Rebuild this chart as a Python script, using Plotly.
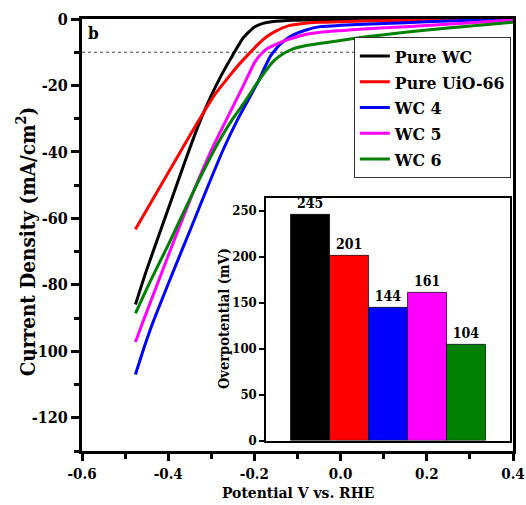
import plotly.graph_objects as go

# ---- LSV polarisation curves (potential in V vs. RHE, current density in mA/cm^2)
series_names = ["Pure WC", "Pure UiO-66", "WC 4", "WC 5", "WC 6"]
series_colors = ["#000000", "#ff0000", "#0000ff", "#ff00ff", "#008000"]

wc_pure_v = [-0.476, -0.45, -0.42, -0.39, -0.36, -0.33, -0.30, -0.275, -0.25, -0.225,
             -0.20, -0.18, -0.16, -0.13, -0.10, 0.0, 0.2, 0.4]
wc_pure_j = [-85.9, -75.5, -64.5, -53.5, -42.5, -32.0, -23.0, -16.5, -10.8, -5.5,
             -2.4, -1.3, -0.8, -0.5, -0.35, -0.2, -0.1, 0.0]

uio_v = [-0.476, -0.44, -0.40, -0.36, -0.32, -0.29, -0.265, -0.24, -0.213, -0.19,
         -0.17, -0.147, -0.12, -0.09, -0.05, 0.0, 0.1, 0.25, 0.4]
uio_j = [-63.3, -55.2, -46.3, -37.3, -28.6, -22.4, -18.3, -14.3, -10.5, -7.4,
         -5.2, -3.4, -2.0, -1.4, -1.0, -0.8, -0.5, -0.3, 0.0]

wc4_v = [-0.476, -0.455, -0.434, -0.39, -0.348, -0.31, -0.273, -0.24, -0.215, -0.19,
         -0.175, -0.163, -0.15, -0.14, -0.125, -0.11, -0.08, -0.047, 0.0, 0.053,
         0.15, 0.25, 0.4]
wc4_j = [-107.0, -98.5, -90.8, -76.5, -63.2, -51.0, -39.5, -30.5, -24.5, -18.5,
         -14.3, -11.2, -9.0, -7.6, -6.0, -4.8, -3.3, -2.3, -1.9, -1.6,
         -1.1, -0.6, 0.0]

wc5_v = [-0.476, -0.457, -0.42, -0.38, -0.34, -0.30, -0.26, -0.225, -0.20, -0.185,
         -0.17, -0.15, -0.124, -0.086, -0.047, 0.0, 0.053, 0.15, 0.285, 0.4]
wc5_j = [-97.2, -90.6, -78.0, -64.5, -51.5, -39.5, -29.0, -19.9, -13.2, -10.6,
         -8.9, -7.6, -6.3, -4.8, -4.0, -3.5, -3.0, -2.3, -1.3, -0.3]

wc6_v = [-0.476, -0.44, -0.40, -0.36, -0.325, -0.283, -0.25, -0.22, -0.20, -0.175,
         -0.155, -0.135, -0.11, -0.08, -0.04, 0.0, 0.05, 0.15, 0.25, 0.4]
wc6_j = [-88.6, -78.5, -68.0, -57.0, -47.5, -37.0, -30.0, -24.5, -20.5, -15.8,
         -12.6, -10.6, -9.0, -8.0, -7.2, -6.5, -5.5, -4.0, -2.7, -1.0]

# reference current density used for the overpotential comparison
j_ref = -10

# ---- overpotential at -10 mA/cm^2 (mV)
overpotential_mv = [245, 201, 144, 161, 104]

# ---- tick labels
x_tickvals = [-0.6, -0.4, -0.2, 0.0, 0.2, 0.4]
x_ticktext = ["-0.6", "-0.4", "-0.2", "0.0", "0.2", "0.4"]
y_tickvals = [0, -20, -40, -60, -80, -100, -120]
y_ticktext = ["0", "-20", "-40", "-60", "-80", "-100", "-120"]
inset_tickvals = [0, 50, 100, 150, 200, 250]
inset_ticktext = ["0", "50", "100", "150", "200", "250"]


def bold(labels):
    return [f"<b>{t}</b>" for t in labels]


FONT = "DejaVu Serif Condensed, DejaVu Serif, serif"

curves = [(wc_pure_v, wc_pure_j), (uio_v, uio_j), (wc4_v, wc4_j),
          (wc5_v, wc5_j), (wc6_v, wc6_j)]

fig = go.Figure()

for name, color, (v, j) in zip(series_names, series_colors, curves):
    fig.add_trace(go.Scatter(
        x=v, y=j, name=name, mode="lines",
        line=dict(color=color, width=3, shape="spline", smoothing=0.5),
        xaxis="x", yaxis="y",
    ))

fig.add_trace(go.Bar(
    x=series_names, y=overpotential_mv,
    marker=dict(color=series_colors, line=dict(color="rgba(0,0,0,0.7)", width=1)),
    text=bold([str(v) for v in overpotential_mv]), textposition="outside",
    textfont=dict(family=FONT, size=14, color="black"),
    cliponaxis=False, showlegend=False,
    xaxis="x2", yaxis="y2",
))

# dotted guide at the reference current density
fig.add_shape(type="line", xref="x", yref="y",
              x0=x_tickvals[0], x1=0.345, y0=j_ref, y1=j_ref,
              line=dict(color="#444444", width=1, dash="dot"), layer="below")

# panel letter and axis titles
fig.add_annotation(text="<b>b</b>", xref="paper", yref="paper",
                   x=0.01, y=0.995, xanchor="left", yanchor="top",
                   showarrow=False, font=dict(family=FONT, size=17, color="black"))
fig.add_annotation(text="<b>Current Density (mA/cm<sup>2</sup>)</b>",
                   xref="paper", yref="paper", x=-0.128, y=0.485,
                   xanchor="center", yanchor="middle", textangle=-90,
                   showarrow=False, font=dict(family=FONT, size=20.5, color="black"))
fig.add_annotation(text="<b>Potential V vs. RHE</b>",
                   xref="paper", yref="paper", x=0.5, y=-0.096,
                   xanchor="center", yanchor="middle",
                   showarrow=False, font=dict(family=FONT, size=15.5, color="black"))
fig.add_annotation(text="<b>Overpotential (mV)</b>",
                   xref="paper", yref="paper", x=0.33, y=0.306,
                   xanchor="center", yanchor="middle", textangle=-90,
                   showarrow=False, font=dict(family=FONT, size=14.5, color="black"))

axis_common = dict(showline=True, linecolor="black", mirror=True,
                   showgrid=False, zeroline=False, ticks="outside",
                   tickcolor="black", automargin=False)

fig.update_layout(
    width=526, height=505,
    margin=dict(l=82, r=13, t=19, b=54),
    paper_bgcolor="white", plot_bgcolor="white",
    font=dict(family=FONT, color="black"),
    bargap=0,
    xaxis=dict(
        **axis_common, linewidth=3, tickwidth=2.5, ticklen=7,
        range=[-0.6, 0.4], tickvals=x_tickvals, ticktext=bold(x_ticktext),
        minor=dict(dtick=0.1, ticklen=5, tickwidth=2.5, tickcolor="black", ticks="outside"),
        tickfont=dict(family=FONT, size=15),
        domain=[0, 1], anchor="y",
    ),
    yaxis=dict(
        **axis_common, linewidth=3, tickwidth=2.5, ticklen=8,
        range=[-130, 0], tickvals=y_tickvals, ticktext=bold(y_ticktext),
        minor=dict(dtick=10, ticklen=5, tickwidth=2.5, tickcolor="black", ticks="outside"),
        tickfont=dict(family=FONT, size=16),
        domain=[0, 1], anchor="x",
    ),
    xaxis2=dict(
        showline=True, linecolor="black", linewidth=1.5, mirror=True,
        showgrid=False, zeroline=False, showticklabels=False, ticks="",
        type="category", range=[-1.13, 5.12], automargin=False,
        domain=[0.427, 0.993], anchor="y2",
    ),
    yaxis2=dict(
        showline=True, linecolor="black", linewidth=1.5, mirror=True,
        showgrid=False, zeroline=False, ticks="outside", ticklen=5,
        tickcolor="black", tickwidth=1.5, automargin=False,
        range=[0, 264], tickvals=inset_tickvals, ticktext=bold(inset_ticktext),
        tickfont=dict(family=FONT, size=13),
        domain=[0.024, 0.586], anchor="x2",
    ),
    legend=dict(
        x=0.995, y=0.958, xanchor="right", yanchor="top",
        bgcolor="white", bordercolor="#333333", borderwidth=1,
        font=dict(family=FONT, size=17.5, weight="bold"),
        tracegroupgap=0,
    ),
)

fig.write_html("out.html")
